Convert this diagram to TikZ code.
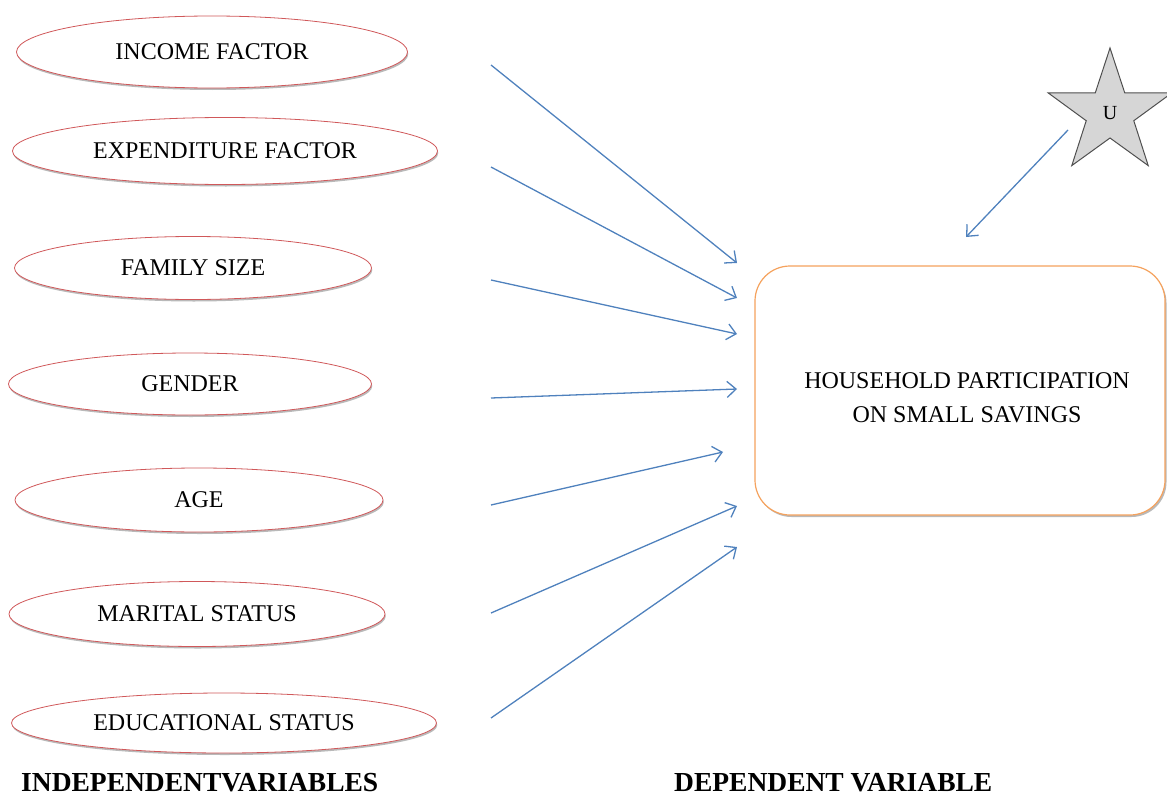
\documentclass[tikz,border=0pt]{standalone}
\usepackage{fontspec}
\setmainfont{Liberation Serif}
\usetikzlibrary{shapes.geometric,shadows,arrows.meta}
\definecolor{ellred}{HTML}{D0585A}
\definecolor{arrblue}{HTML}{4F81BD}
\definecolor{boxorange}{HTML}{F5A25D}
\definecolor{stargray}{HTML}{D6D6D6}
\definecolor{stardraw}{HTML}{505050}
\begin{document}
\begin{tikzpicture}[x=1pt,y=-1pt,
  varell/.style={ellipse, draw=ellred, line width=0.8pt, fill=white, inner sep=0pt,
    font=\fontsize{24}{28}\selectfont,
    drop shadow={shadow xshift=0.8pt, shadow yshift=-2pt, fill=gray!55, opacity=1}},
  conn/.style={draw=arrblue, line width=1.3pt,
    -{Straight Barb[length=9pt,width=16pt,line width=1.3pt]}},
  dvbox/.style={draw=boxorange, line width=1.2pt, rounded corners=35pt, fill=white,
    drop shadow={shadow xshift=1.5pt, shadow yshift=-2pt, fill=gray!55, opacity=1}},
  dvtext/.style={align=center, font=\fontsize{24}{34}\selectfont, inner sep=0pt},
  ustar/.style={star, star points=5, star point ratio=2.6, draw=stardraw, line width=1pt,
    fill=stargray, inner sep=0pt, minimum size=130pt, font=\fontsize{20}{24}\selectfont},
  headlbl/.style={font=\bfseries\fontsize{27.5}{30}\selectfont, anchor=base west, inner sep=0pt}
]
\useasboundingbox (0,0) rectangle (1167,800);

% independent variables
\node[varell, minimum width=391pt, minimum height=72pt] (inc) at (212,52) {INCOME FACTOR};
\node[varell, minimum width=425pt, minimum height=67pt] (exp) at (225,151) {EXPENDITURE FACTOR};
\node[varell, minimum width=357pt, minimum height=63pt] (fam) at (193,268) {FAMILY SIZE};
\node[varell, minimum width=363pt, minimum height=62pt] (gen) at (190,384) {GENDER};
\node[varell, minimum width=368pt, minimum height=64pt] (age) at (199,500) {AGE};
\node[varell, minimum width=376pt, minimum height=65pt] (mar) at (197,614) {MARITAL STATUS};
\node[varell, minimum width=425pt, minimum height=60pt] (edu) at (224,723) {EDUCATIONAL STATUS};

% dependent variable
\node[dvbox, minimum width=410pt, minimum height=249pt] (dv) at (960,390.5) {};
\node[dvtext] (dvlabel) at (967,398) {HOUSEHOLD PARTICIPATION\\ON SMALL SAVINGS};

% error term
\node[ustar] (u) at (1110,113) {U};

% arrow end points
\coordinate (s1) at (491,65);  \coordinate (e1) at (737,263);
\coordinate (s2) at (491,167); \coordinate (e2) at (737,298);
\coordinate (s3) at (491,280); \coordinate (e3) at (737,334);
\coordinate (s4) at (491,398); \coordinate (e4) at (737,389);
\coordinate (s5) at (491,505); \coordinate (e5) at (723,452);
\coordinate (s6) at (491,613); \coordinate (e6) at (737,506);
\coordinate (s7) at (491,718); \coordinate (e7) at (737,547);
\coordinate (su) at (1068,130); \coordinate (eu) at (966,237);

\draw[conn] (s1) -- (e1);
\draw[conn] (s2) -- (e2);
\draw[conn] (s3) -- (e3);
\draw[conn] (s4) -- (e4);
\draw[conn] (s5) -- (e5);
\draw[conn] (s6) -- (e6);
\draw[conn] (s7) -- (e7);
\draw[conn] (su) -- (eu);

% headings
\node[headlbl] (indep) at (21,791) {INDEPENDENTVARIABLES};
\node[headlbl] (dep) at (674,791) {DEPENDENT VARIABLE};
\end{tikzpicture}
\end{document}
